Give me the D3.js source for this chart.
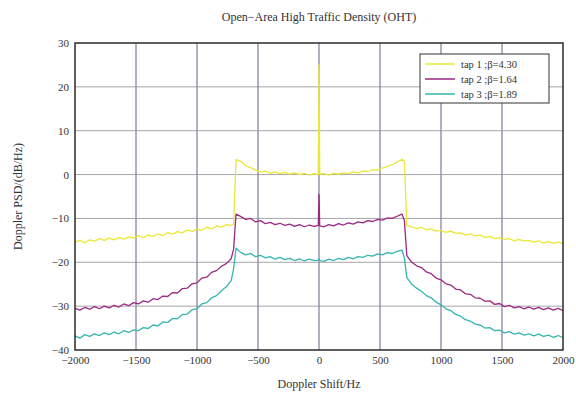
<!DOCTYPE html>
<html>
<head>
<meta charset="utf-8">
<script src="https://cdn.jsdelivr.net/npm/d3@7"></script>
<style>
  body { margin: 0; background: white; }
  text { font-family: "Liberation Serif", "DejaVu Serif", serif; fill: #333; }
</style>
</head>
<body>
<div id="container"></div>
<script>
// sample frequencies (Hz)
let freqs = [
  -2000,-1960,-1920,-1880,-1840,-1800,-1760,-1720,-1680,-1640,-1600,-1560,-1520,-1480,-1440,-1400,-1360,-1320,-1280,-1240,-1200,-1160,-1120,-1080,-1040,-1000,-960,-920,-880,-840,-800,-760,-720,-700,
  -680,-640,-600,-560,-520,-480,-440,-400,-360,-320,-280,-240,-200,-160,-120,-80,-40,-6,0,6,40,80,120,160,200,240,280,320,360,400,440,480,520,560,600,640,680,700,
  720,760,800,840,880,920,960,1000,1040,1080,1120,1160,1200,1240,1280,1320,1360,1400,1440,1480,1520,1560,1600,1640,1680,1720,1760,1800,1840,1880,1920,1960,2000
];

let tap1 = [
  -15.4,-15.0,-15.6,-14.9,-15.2,-14.6,-15.0,-14.5,-14.9,-14.3,-14.7,-14.2,-14.5,-13.9,-14.4,-13.8,-14.1,-13.5,-13.9,-13.2,-13.6,-13.0,-13.3,-12.6,-13.0,-12.4,-12.7,-12.0,-12.4,-11.7,-12.0,-11.4,-11.6,-11.2,
  3.4,3.0,2.0,1.6,1.0,0.6,0.8,0.3,0.6,0.2,0.5,0.1,0.4,0.0,0.3,-0.1,0.2,0.0,25,0.1,0.2,-0.1,0.3,0.1,0.4,0.2,0.6,0.4,0.8,0.7,1.1,1.0,1.5,1.8,2.3,2.8,3.5,3.0,
  -11.6,-11.9,-12.3,-12.0,-12.6,-12.4,-12.9,-12.7,-13.2,-12.9,-13.4,-13.3,-13.8,-13.5,-14.0,-13.8,-14.3,-14.1,-14.6,-14.4,-14.8,-14.6,-15.1,-14.8,-15.2,-15.0,-15.4,-15.1,-15.6,-15.3,-15.7,-15.4,-15.8
];

let tap2 = [
  -30.5,-30.9,-30.3,-30.7,-30.1,-30.6,-30.0,-30.4,-29.8,-30.2,-29.5,-29.9,-29.2,-29.5,-28.8,-29.1,-28.3,-28.5,-27.7,-27.8,-26.9,-27.0,-26.0,-25.9,-24.9,-24.7,-23.6,-23.4,-22.3,-21.9,-20.9,-20.3,-19.2,-17.0,
  -9.0,-9.6,-10.2,-10.0,-10.8,-10.5,-11.2,-10.9,-11.4,-11.1,-11.6,-11.3,-11.8,-11.4,-11.9,-11.5,-11.8,-11.6,-4.5,-11.7,-11.9,-11.4,-11.7,-11.2,-11.5,-11.0,-11.3,-10.8,-11.0,-10.5,-10.7,-10.2,-10.4,-9.9,-10.0,-9.5,-9.0,-10.5,
  -18.5,-20.0,-20.8,-21.2,-22.2,-22.6,-23.6,-24.0,-24.9,-25.2,-26.1,-26.3,-27.2,-27.3,-28.1,-28.2,-28.9,-28.8,-29.6,-29.4,-30.1,-29.8,-30.4,-30.1,-30.6,-30.2,-30.7,-30.3,-30.8,-30.4,-30.9,-30.5,-31.0
];

let tap3 = [
  -36.8,-37.3,-36.5,-36.9,-36.3,-36.7,-36.1,-36.5,-35.9,-36.3,-35.6,-36.0,-35.4,-35.6,-34.9,-35.1,-34.3,-34.5,-33.6,-33.7,-32.8,-32.9,-31.9,-31.8,-30.8,-30.6,-29.5,-29.2,-28.1,-27.6,-26.5,-25.6,-24.2,-21.5,
  -16.8,-17.8,-18.3,-18.0,-18.7,-18.4,-19.0,-18.7,-19.3,-18.9,-19.4,-19.1,-19.6,-19.2,-19.7,-19.3,-19.6,-19.5,-19.2,-19.6,-19.8,-19.3,-19.6,-19.1,-19.4,-18.9,-19.2,-18.7,-18.9,-18.4,-18.6,-18.1,-18.3,-17.8,-18.0,-17.5,-17.2,-19.0,
  -23.5,-25.0,-25.9,-26.6,-27.6,-28.1,-29.1,-29.7,-30.6,-31.0,-31.9,-32.3,-33.1,-33.4,-34.1,-34.3,-35.0,-34.9,-35.6,-35.5,-36.1,-35.8,-36.4,-36.1,-36.6,-36.3,-36.8,-36.4,-36.9,-36.6,-37.1,-36.7,-37.2
];

let seriesNames = ["tap 1 ;\u03B2=4.30", "tap 2 ;\u03B2=1.64", "tap 3 ;\u03B2=1.89"];
let seriesColors = ["#e9e834", "#9c2784", "#35b5ad"];
let xTicks = [-2000, -1500, -1000, -500, 0, 500, 1000, 1500, 2000];
let yTicks = [-40, -30, -20, -10, 0, 10, 20, 30];

let w = 576;
let h = 401;
let mLeft = 75, mRight = 563, mTop = 43, mBottom = 350;

let viz = d3.select("#container").append("svg")
    .attr("width", w)
    .attr("height", h)
    .style("background-color", "white");

let x = d3.scaleLinear().domain([-2000, 2000]).range([mLeft, mRight]);
let y = d3.scaleLinear().domain([-40, 30]).range([mBottom, mTop]);

let fmt = d => d < 0 ? "\u2212" + Math.abs(d) : String(d);

// grid
viz.append("g").selectAll("line").data(yTicks.slice(1, -1)).enter()
  .append("line")
    .attr("x1", mLeft).attr("x2", mRight)
    .attr("y1", d => y(d)).attr("y2", d => y(d))
    .attr("stroke", "#a6a6aa")
    .attr("stroke-width", 1);

viz.append("g").selectAll("line").data(xTicks.slice(1, -1)).enter()
  .append("line")
    .attr("x1", d => x(d)).attr("x2", d => x(d))
    .attr("y1", mTop).attr("y2", mBottom)
    .attr("stroke", "#8a84a2")
    .attr("stroke-width", 1.3);

// curves
let allTaps = [tap1, tap2, tap3];
let line = d3.line()
    .x((d, i) => x(freqs[i]))
    .y(d => y(d));

viz.append("g").selectAll("path").data(allTaps).enter()
  .append("path")
    .attr("d", line)
    .attr("fill", "none")
    .attr("stroke", (d, i) => seriesColors[i])
    .attr("stroke-width", 1.3)
    .attr("stroke-linejoin", "round");

// axes
let xAxis = viz.append("g")
    .attr("transform", "translate(0," + mBottom + ")")
    .call(d3.axisBottom(x).tickValues(xTicks).tickFormat(fmt).tickSize(0).tickPadding(6));
let yAxis = viz.append("g")
    .attr("transform", "translate(" + mLeft + ",0)")
    .call(d3.axisLeft(y).tickValues(yTicks).tickFormat(fmt).tickSize(0).tickPadding(6));

[xAxis, yAxis].forEach(a => {
  a.select(".domain").remove();
  a.selectAll("text")
    .style("font-family", "Liberation Serif, serif")
    .style("font-size", "11px")
    .attr("fill", "#333");
});

// frame
viz.append("rect")
    .attr("x", mLeft).attr("y", mTop)
    .attr("width", mRight - mLeft).attr("height", mBottom - mTop)
    .attr("fill", "none")
    .attr("stroke", "#2a2a2a")
    .attr("stroke-width", 1.5);

// title and labels
viz.append("text")
    .attr("x", (mLeft + mRight) / 2).attr("y", 21)
    .attr("text-anchor", "middle")
    .style("font-size", "12px")
    .text("Open\u2212Area High Traffic Density (OHT)");

viz.append("text")
    .attr("x", (mLeft + mRight) / 2).attr("y", 388)
    .attr("text-anchor", "middle")
    .style("font-size", "12px")
    .text("Doppler Shift/Hz");

viz.append("text")
    .attr("transform", "translate(22," + ((mTop + mBottom) / 2) + ") rotate(-90)")
    .attr("text-anchor", "middle")
    .style("font-size", "12px")
    .text("Doppler PSD/(dB/Hz)");

// legend
let legend = viz.append("g");
legend.append("rect")
    .attr("x", 420).attr("y", 54)
    .attr("width", 129).attr("height", 49)
    .attr("fill", "white")
    .attr("stroke", "#333")
    .attr("stroke-width", 1);

let rows = legend.selectAll(".row").data(seriesNames).enter()
  .append("g")
    .attr("class", "row")
    .attr("transform", (d, i) => "translate(0," + (64 + i * 15) + ")");

rows.append("line")
    .attr("x1", 425).attr("x2", 455)
    .attr("stroke", (d, i) => seriesColors[i])
    .attr("stroke-width", 1.5);

rows.append("text")
    .attr("x", 461).attr("y", 4)
    .style("font-size", "10.5px")
    .text(d => d);
</script>
</body>
</html>
